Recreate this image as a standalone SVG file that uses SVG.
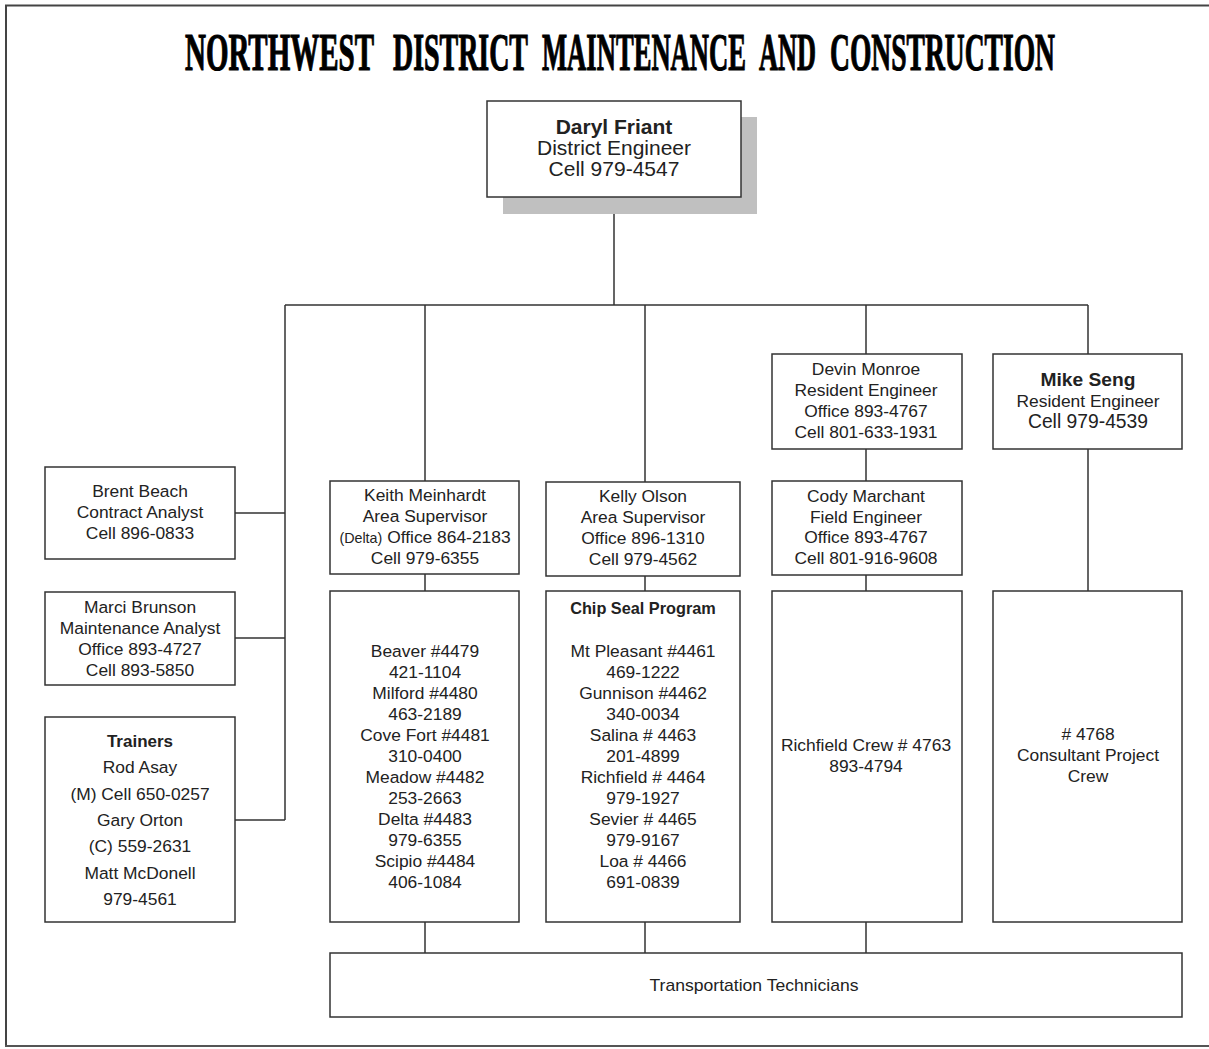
<svg xmlns="http://www.w3.org/2000/svg" width="1209" height="1049" viewBox="0 0 1209 1049">
<style>
.box{fill:#fff;stroke:#333;stroke-width:1.5}
.ln{stroke:#333;stroke-width:1.5;fill:none}
text{font-family:"Liberation Sans",Arial,sans-serif;fill:#222;text-anchor:middle}
.t{font-size:17.4px}
.b{font-weight:bold}
.ttl{font-family:"Liberation Serif","Times New Roman",serif;font-weight:bold;font-size:53px;fill:#000;stroke:#000;stroke-width:1.2;text-anchor:start}
</style>
<rect width="1209" height="1049" fill="#fff"/>
<g id="frame">
<path d="M6,1046 V5.5 H1209" fill="none" stroke="#444" stroke-width="2"/>
<path d="M5,1046 H1209" fill="none" stroke="#555" stroke-width="2"/>
</g>
<g id="title" transform="scale(0.5,1)">
<text class="ttl" x="370" y="70" textLength="378" lengthAdjust="spacingAndGlyphs">NORTHWEST</text>
<text class="ttl" x="786" y="70" textLength="270" lengthAdjust="spacingAndGlyphs">DISTRICT</text>
<text class="ttl" x="1084" y="70" textLength="408" lengthAdjust="spacingAndGlyphs">MAINTENANCE</text>
<text class="ttl" x="1518" y="70" textLength="114" lengthAdjust="spacingAndGlyphs">AND</text>
<text class="ttl" x="1660" y="70" textLength="450" lengthAdjust="spacingAndGlyphs">CONSTRUCTION</text>
</g>
<g id="connectors">
<path class="ln" d="M614,197 V305 M285,305 H1088 M285,305 V820 M235,513 H285 M235,638 H285 M235,820 H285"/>
<path class="ln" d="M425,305 V481 M645,305 V482 M866,305 V354 M1088,305 V354"/>
<path class="ln" d="M425,574 V591 M645,576 V591 M866,449 V481 M866,575 V591 M1088,449 V591"/>
<path class="ln" d="M425,922 V953 M645,922 V953 M866,922 V953"/>
</g>
<g id="daryl">
<rect x="503" y="117" width="254" height="97" fill="#c0c0c0"/>
<rect class="box" x="487" y="101" width="254" height="96"/>
<text x="614" y="134" font-size="21" class="b">Daryl Friant</text>
<text x="614" y="155" font-size="21">District Engineer</text>
<text x="614" y="176" font-size="21">Cell 979-4547</text>
</g>
<g id="brent">
<rect class="box" x="45" y="467" width="190" height="92"/>
<text class="t" x="140" y="497">Brent Beach</text>
<text class="t" x="140" y="518">Contract Analyst</text>
<text class="t" x="140" y="539">Cell 896-0833</text>
</g>
<g id="marci">
<rect class="box" x="45" y="592" width="190" height="93"/>
<text class="t" x="140" y="613">Marci Brunson</text>
<text class="t" x="140" y="634">Maintenance Analyst</text>
<text class="t" x="140" y="655">Office 893-4727</text>
<text class="t" x="140" y="676">Cell 893-5850</text>
</g>
<g id="trainers">
<rect class="box" x="45" y="717" width="190" height="205"/>
<text x="140" y="747" font-size="17" class="b">Trainers</text>
<text class="t" x="140" y="773">Rod Asay</text>
<text class="t" x="140" y="800">(M) Cell 650-0257</text>
<text class="t" x="140" y="826">Gary Orton</text>
<text class="t" x="140" y="852">(C) 559-2631</text>
<text class="t" x="140" y="879">Matt McDonell</text>
<text class="t" x="140" y="905">979-4561</text>
</g>
<g id="keith">
<rect class="box" x="330" y="481" width="189" height="93"/>
<text class="t" x="425" y="501">Keith Meinhardt</text>
<text class="t" x="425" y="522">Area Supervisor</text>
<text class="t" x="425" y="543"><tspan font-size="14.3">(Delta)</tspan> Office 864-2183</text>
<text class="t" x="425" y="564">Cell 979-6355</text>
</g>
<g id="kelly">
<rect class="box" x="546" y="482" width="194" height="94"/>
<text class="t" x="643" y="502">Kelly Olson</text>
<text class="t" x="643" y="523">Area Supervisor</text>
<text class="t" x="643" y="544">Office 896-1310</text>
<text class="t" x="643" y="565">Cell 979-4562</text>
</g>
<g id="devin">
<rect class="box" x="772" y="354" width="190" height="95"/>
<text class="t" x="866" y="375">Devin Monroe</text>
<text class="t" x="866" y="396">Resident Engineer</text>
<text class="t" x="866" y="417">Office 893-4767</text>
<text class="t" x="866" y="438">Cell 801-633-1931</text>
</g>
<g id="mike">
<rect class="box" x="993" y="354" width="189" height="95"/>
<text x="1088" y="386" font-size="19.2" class="b">Mike Seng</text>
<text class="t" x="1088" y="407">Resident Engineer</text>
<text x="1088" y="428" font-size="19.3">Cell 979-4539</text>
</g>
<g id="cody">
<rect class="box" x="772" y="481" width="190" height="94"/>
<text class="t" x="866" y="502">Cody Marchant</text>
<text class="t" x="866" y="523">Field Engineer</text>
<text class="t" x="866" y="543">Office 893-4767</text>
<text class="t" x="866" y="564">Cell 801-916-9608</text>
</g>
<g id="keith-crews">
<rect class="box" x="330" y="591" width="189" height="331"/>
<text class="t" x="425" y="657">Beaver #4479</text>
<text class="t" x="425" y="678">421-1104</text>
<text class="t" x="425" y="699">Milford #4480</text>
<text class="t" x="425" y="720">463-2189</text>
<text class="t" x="425" y="741">Cove Fort #4481</text>
<text class="t" x="425" y="762">310-0400</text>
<text class="t" x="425" y="783">Meadow #4482</text>
<text class="t" x="425" y="804">253-2663</text>
<text class="t" x="425" y="825">Delta #4483</text>
<text class="t" x="425" y="846">979-6355</text>
<text class="t" x="425" y="867">Scipio #4484</text>
<text class="t" x="425" y="888">406-1084</text>
</g>
<g id="chip-seal">
<rect class="box" x="546" y="591" width="194" height="331"/>
<text x="643" y="614" font-size="16.3" class="b">Chip Seal Program</text>
<text class="t" x="643" y="657">Mt Pleasant #4461</text>
<text class="t" x="643" y="678">469-1222</text>
<text class="t" x="643" y="699">Gunnison #4462</text>
<text class="t" x="643" y="720">340-0034</text>
<text class="t" x="643" y="741">Salina # 4463</text>
<text class="t" x="643" y="762">201-4899</text>
<text class="t" x="643" y="783">Richfield # 4464</text>
<text class="t" x="643" y="804">979-1927</text>
<text class="t" x="643" y="825">Sevier # 4465</text>
<text class="t" x="643" y="846">979-9167</text>
<text class="t" x="643" y="867">Loa # 4466</text>
<text class="t" x="643" y="888">691-0839</text>
</g>
<g id="richfield-crew">
<rect class="box" x="772" y="591" width="190" height="331"/>
<text class="t" x="866" y="751">Richfield Crew # 4763</text>
<text class="t" x="866" y="772">893-4794</text>
</g>
<g id="consultant-crew">
<rect class="box" x="993" y="591" width="189" height="331"/>
<text class="t" x="1088" y="740"># 4768</text>
<text class="t" x="1088" y="761">Consultant Project</text>
<text class="t" x="1088" y="782">Crew</text>
</g>
<g id="technicians">
<rect class="box" x="330" y="953" width="852" height="64"/>
<text x="754" y="991" font-size="17" textLength="209" lengthAdjust="spacingAndGlyphs">Transportation Technicians</text>
</g>
</svg>
